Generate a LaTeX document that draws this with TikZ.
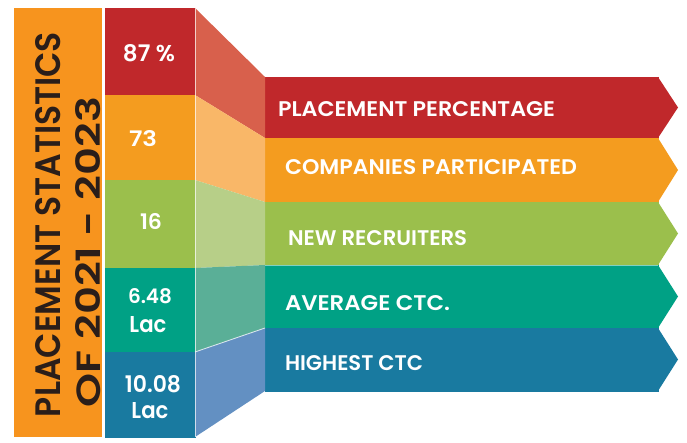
\documentclass[tikz,border=0pt]{standalone}
\usepackage{fontspec}
\setmainfont{Poppins}[BoldFont={Poppins SemiBold}]
\usepackage{graphicx}
\usetikzlibrary{calc}
\definecolor{titleor}{HTML}{F7941E}
\definecolor{titletxt}{HTML}{2A1E1A}
\definecolor{redc}{HTML}{C0282B}
\definecolor{orc}{HTML}{F49C1F}
\definecolor{grc}{HTML}{9BBF4C}
\definecolor{tlc}{HTML}{00A185}
\definecolor{blc}{HTML}{197AA0}
\definecolor{redf}{HTML}{D8604C}
\definecolor{orf}{HTML}{F9B768}
\definecolor{grf}{HTML}{B7CF88}
\definecolor{tlf}{HTML}{5AAF97}
\definecolor{blf}{HTML}{6390C2}
\newcommand\fitT[3]{\resizebox{#1pt}{#2pt}{\bfseries #3}}
\tikzset{
  cell/.style={rectangle, inner sep=0pt, outer sep=0pt, anchor=north west,
    minimum width=90pt, fill=#1, draw=#1, line width=0.3pt},
  bar/.style={rectangle, inner sep=0pt, outer sep=0pt, anchor=north west,
    minimum width=393pt, fill=#1, draw=#1, line width=0.3pt},
  txt/.style={inner sep=0pt, outer sep=0pt, text=white},
  seam/.style={white, line width=0.9pt, opacity=0.7}
}
\begin{document}
\begin{tikzpicture}[x=1pt,y=-1pt]
\useasboundingbox (0,0) rectangle (687,443);
\fill[white] (0,0) rectangle (687,443);

% title box
\node[rectangle, inner sep=0pt, anchor=north west, minimum width=88pt,
  minimum height=429pt, fill=titleor] (title) at (14,8) {};
\node[txt, text=titletxt, rotate=90, anchor=base west] (ttl1) at (60,417)
  {\fitT{385}{25}{PLACEMENT STATISTICS}};
\node[txt, text=titletxt, rotate=90, anchor=base west] (ttl2) at (100,407)
  {\fitT{310}{25}{OF 2021 - 2023}};

% value cells
\node[cell=redc, minimum height=87pt] (v1) at (105,8) {};
\node[cell=orc,  minimum height=85pt] (v2) at (105,95) {};
\node[cell=grc,  minimum height=88pt] (v3) at (105,180) {};
\node[cell=tlc,  minimum height=84pt] (v4) at (105,268) {};
\node[cell=blc,  minimum height=85pt] (v5) at (105,352) {};

% bars
\node[bar=redc, minimum height=61pt] (b1) at (265,77) {};
\node[bar=orc,  minimum height=64pt] (b2) at (265,138) {};
\node[bar=grc,  minimum height=63pt] (b3) at (265,202) {};
\node[bar=tlc,  minimum height=63pt] (b4) at (265,265) {};
\node[bar=blc,  minimum height=63pt] (b5) at (265,328) {};

% arrow tips
\foreach \b/\c in {b1/redc,b2/orc,b3/grc,b4/tlc,b5/blc}{
  \fill[\c] (\b.north east) -- ($(\b.east)+(20,0)$) -- (\b.south east) -- cycle;
}

% slanted faces
\foreach \v/\b/\c in {v1/b1/redf,v2/b2/orf,v3/b3/grf,v4/b4/tlf,v5/b5/blf}{
  \fill[\c] (\v.north east) -- (\b.north west) -- (\b.south west) -- (\v.south east) -- cycle;
}
\draw[seam] (v1.north east) -- (v5.south east);
\draw[seam] (v4.south east) -- (b4.south west);
\draw[seam, opacity=0.5] (b3.south west) -- (b3.south east);

% values
\node[txt, anchor=base] (n1) at (149,62) {\fitT{52}{17}{87 \%}};
\node[txt, anchor=base] (n2) at (143,147) {\fitT{28}{16}{73}};
\node[txt, anchor=base] (n3) at (151,230) {\fitT{22}{16}{16}};
\node[txt, anchor=base] (n4a) at (150,303) {\fitT{44}{15}{6.48}};
\node[txt, anchor=base] (n4b) at (148,332) {\fitT{37}{16}{Lac}};
\node[txt, anchor=base] (n5a) at (153,392) {\fitT{56}{17}{10.08}};
\node[txt, anchor=base] (n5b) at (150,418) {\fitT{37}{16}{Lac}};

% labels
\node[txt, anchor=base west] (l1) at (278,117) {\fitT{277}{15}{PLACEMENT PERCENTAGE}};
\node[txt, anchor=base west] (l2) at (285,175) {\fitT{292}{15}{COMPANIES PARTICIPATED}};
\node[txt, anchor=base west] (l3) at (288,245) {\fitT{179}{15}{NEW RECRUITERS}};
\node[txt, anchor=base west] (l4) at (285,310) {\fitT{165}{15}{AVERAGE CTC.}};
\node[txt, anchor=base west] (l5) at (285,370) {\fitT{138}{15}{HIGHEST CTC}};
\end{tikzpicture}
\end{document}
